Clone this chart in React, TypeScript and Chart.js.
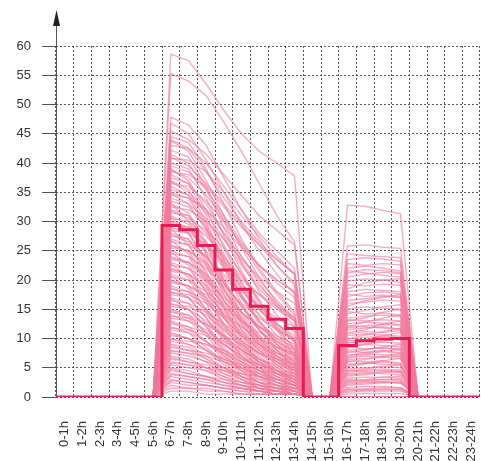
import React, { useEffect, useRef } from 'react';
import { Chart, registerables } from 'chart.js';
Chart.register(...registerables);

const hourLabels = ['0-1h','1-2h','2-3h','3-4h','4-5h','5-6h','6-7h','7-8h','8-9h','9-10h','10-11h','11-12h','12-13h','13-14h','14-15h','15-16h','16-17h','17-18h','18-19h','19-20h','20-21h','21-22h','22-23h','23-24h'];

// Thick step line (mean per hour)
const meanProfile = [0,0,0,0,0,0,29.3,28.6,25.9,21.7,18.4,15.5,13.3,11.7,0,0,8.8,9.6,9.9,10.0,0,0,0,0];

// Thin lines: values at 6-7h .. 13-14h
const morningProfiles = [
  [58.6,57.5,53.5,49.0,45.0,42.0,40.0,37.8],
  [55.3,54.0,51.5,47.0,42.0,36.5,31.0,26.5],
  [47.8,46.5,43.0,37.5,32.0,27.0,22.5,19.0],
  [46.8,45.0,40.5,35.0,29.5,25.0,21.0,17.5],
  [45.5,44.0,41.5,38.0,34.5,31.0,28.5,26.0],
  [44.5,43.5,39.0,33.0,27.0,22.0,18.0,14.5],
  [43.8,42.0,37.0,31.0,25.5,20.5,16.0,13.0],
  [43.0,42.5,40.0,36.0,32.0,28.0,25.0,22.0],
  [42.2,41.0,36.0,30.0,24.0,19.5,15.5,12.0],
  [41.5,40.0,35.5,29.0,23.0,18.0,14.0,11.0],
  [40.8,40.5,38.5,35.0,31.0,27.5,24.0,21.0],
  [40.0,39.0,34.0,27.5,21.5,16.5,12.5,9.5],
  [39.5,38.5,35.5,31.0,26.5,22.5,19.5,17.0],
  [39.0,37.0,32.0,25.5,19.5,15.0,11.5,8.5],
  [38.5,38.0,36.0,32.5,29.0,26.0,23.5,21.0],
  [38.0,36.5,31.0,24.5,18.5,14.0,10.5,8.0],
  [37.5,36.5,33.0,28.0,23.0,19.0,16.0,13.5],
  [37.0,35.5,30.0,23.5,17.5,13.0,9.5,7.0],
  [36.5,36.0,33.5,30.0,26.0,22.5,20.0,18.0],
  [36.0,34.5,29.5,23.0,17.0,12.5,9.0,6.5],
  [35.5,34.5,31.5,27.0,22.5,18.5,15.5,13.0],
  [35.0,34.0,29.0,22.0,16.0,11.5,8.5,6.0],
  [34.5,34.0,32.0,29.0,25.5,22.5,20.0,18.0],
  [34.0,33.0,28.5,22.5,17.0,13.0,10.0,7.5],
  [33.5,32.5,29.0,24.0,19.5,15.5,12.5,10.0],
  [33.0,31.5,26.5,20.0,14.5,10.5,7.5,5.5],
  [32.5,32.0,30.0,27.0,23.5,20.5,18.0,16.0],
  [32.0,31.0,26.0,19.5,14.0,10.0,7.0,5.0],
  [31.5,31.0,28.0,23.5,19.0,15.0,12.0,9.5],
  [31.0,29.5,24.5,18.5,13.5,9.5,6.5,4.5],
  [30.5,30.0,27.5,24.0,20.5,17.5,15.0,13.0],
  [30.0,29.0,24.5,18.5,13.0,9.0,6.5,4.5],
  [29.5,29.0,26.5,22.5,18.5,15.0,12.5,10.5],
  [29.0,28.0,23.5,17.5,12.5,8.5,6.0,4.0],
  [28.5,28.0,26.0,23.0,20.0,17.5,15.5,13.5],
  [28.0,27.0,22.5,16.5,11.5,8.0,5.5,3.5],
  [27.5,27.0,24.0,19.5,15.5,12.0,9.5,7.5],
  [27.0,26.0,21.5,15.5,10.5,7.0,4.5,3.0],
  [26.5,26.0,24.0,21.0,18.0,15.5,13.5,12.0],
  [26.0,25.0,20.5,15.0,10.0,6.5,4.5,3.0],
  [25.5,25.0,22.5,18.5,14.5,11.5,9.0,7.0],
  [25.0,24.0,19.5,14.0,9.5,6.0,4.0,2.5],
  [24.5,24.0,22.0,19.0,16.0,13.5,11.5,10.0],
  [24.0,23.0,19.0,13.5,9.0,6.0,4.0,2.5],
  [23.5,23.0,20.5,16.5,13.0,10.0,8.0,6.0],
  [23.0,22.0,18.0,12.5,8.5,5.5,3.5,2.0],
  [22.5,22.0,20.0,17.0,14.5,12.0,10.5,9.0],
  [22.0,21.0,17.0,12.0,8.0,5.0,3.0,2.0],
  [21.5,21.0,18.5,15.0,11.5,9.0,7.0,5.5],
  [21.0,20.0,16.0,11.0,7.0,4.5,3.0,2.0],
  [20.5,20.0,18.0,15.5,13.0,11.0,9.5,8.0],
  [20.0,19.0,15.0,10.5,7.0,4.5,2.5,1.5],
  [19.5,19.0,17.0,13.5,10.5,8.0,6.5,5.0],
  [19.0,18.0,14.5,10.0,6.5,4.0,2.5,1.5],
  [18.5,18.0,16.5,14.0,12.0,10.0,8.5,7.5],
  [18.0,17.0,13.5,9.5,6.0,3.5,2.0,1.0],
  [17.5,17.0,15.0,12.0,9.5,7.5,6.0,4.5],
  [17.0,16.0,12.5,8.5,5.5,3.5,2.0,1.0],
  [16.5,16.0,14.5,12.5,10.5,9.0,7.5,6.5],
  [16.0,15.0,12.0,8.0,5.0,3.0,2.0,1.0],
  [15.5,15.0,13.0,10.5,8.0,6.0,4.5,3.5],
  [15.0,14.0,11.0,7.5,4.5,2.5,1.5,1.0],
  [14.5,14.0,12.5,10.5,9.0,7.5,6.5,5.5],
  [14.0,13.0,10.5,7.0,4.5,2.5,1.5,0.5],
  [13.5,13.0,11.5,9.0,7.0,5.5,4.0,3.0],
  [13.0,12.0,9.5,6.5,4.0,2.5,1.5,0.5],
  [12.5,12.0,11.0,9.5,8.0,6.5,5.5,4.5],
  [12.0,11.0,8.5,6.0,3.5,2.0,1.0,0.5],
  [11.5,11.0,9.5,7.5,5.5,4.0,3.0,2.0],
  [11.0,10.0,8.0,5.5,3.5,2.0,1.0,0.5],
  [10.5,10.0,9.0,8.0,6.5,5.5,4.5,4.0],
  [10.0,9.0,7.0,5.0,3.0,1.5,1.0,0.5],
  [9.5,9.0,8.0,6.5,5.0,3.5,2.5,2.0],
  [9.0,8.5,6.5,4.5,3.0,1.5,1.0,0.5],
  [8.5,8.0,7.5,6.5,5.5,4.5,4.0,3.5],
  [8.0,7.5,6.0,4.0,2.5,1.5,1.0,0.5],
  [7.5,7.0,6.0,5.0,4.0,3.0,2.0,1.5],
  [7.0,6.5,5.0,3.5,2.0,1.0,0.5,0.5],
  [6.5,6.0,5.5,4.5,4.0,3.5,3.0,2.5],
  [6.0,5.5,4.5,3.0,2.0,1.0,0.5,0.5],
  [5.5,5.0,4.5,3.5,2.5,2.0,1.5,1.0],
  [5.0,4.5,3.5,2.5,1.5,1.0,0.5,0.5],
  [4.5,4.0,3.5,3.0,2.5,2.0,1.5,1.5],
  [4.0,3.5,3.0,2.0,1.5,1.0,0.5,0.5],
  [3.5,3.0,2.5,2.0,1.5,1.0,1.0,0.5],
  [3.0,2.5,2.0,1.5,1.0,0.5,0.5,0.5],
  [2.5,2.0,2.0,1.5,1.0,1.0,0.5,0.5],
  [2.0,1.5,1.5,1.0,0.5,0.5,0.5,0.5],
  [1.5,1.5,1.0,1.0,0.5,0.5,0.5,0.5],
  [1.0,1.0,0.5,0.5,0.5,0.5,0.5,0.5],
  [34.8,33.0,30.5,26.0,21.0,16.0,11.5,7.0],
  [33.2,30.0,25.0,20.5,17.0,14.0,11.5,9.5],
  [31.8,30.5,28.5,25.5,21.0,16.5,12.0,8.0],
  [30.8,28.0,23.0,18.0,14.5,12.0,10.0,8.5],
  [29.8,28.5,26.0,22.0,17.5,13.0,9.0,6.0],
  [28.8,26.0,21.0,16.5,13.0,10.5,8.5,7.0],
  [27.8,26.5,24.0,20.0,15.5,11.5,8.0,5.0],
  [26.8,24.5,20.0,15.5,12.0,9.5,7.5,6.0],
  [25.8,25.0,23.0,19.5,15.5,11.5,8.0,5.5],
  [24.8,22.5,18.0,14.0,11.0,8.5,7.0,5.5],
  [23.8,23.0,21.0,17.5,13.5,10.0,7.0,4.5],
  [22.8,20.5,16.5,12.5,9.5,7.5,6.0,5.0],
  [21.8,21.0,19.0,16.0,12.5,9.0,6.0,4.0],
  [20.8,18.5,15.0,11.5,8.5,6.5,5.0,4.0],
  [19.8,19.0,17.5,14.5,11.0,8.0,5.5,3.5],
  [18.8,17.0,13.5,10.0,7.5,5.5,4.5,3.5],
  [17.8,17.5,16.0,13.5,10.5,7.5,5.0,3.0],
  [16.8,15.0,12.0,9.0,6.5,5.0,4.0,3.0],
  [15.8,15.5,14.0,11.5,9.0,6.5,4.5,2.5],
  [14.8,13.5,11.0,8.0,6.0,4.5,3.5,2.5],
  [13.8,13.5,12.5,10.5,8.0,6.0,4.0,2.5],
  [12.8,11.5,9.5,7.0,5.0,4.0,3.0,2.0],
  [11.8,11.5,10.5,9.0,7.0,5.0,3.5,2.0],
  [10.8,10.0,8.0,6.0,4.5,3.5,2.5,2.0],
  [9.8,9.5,9.0,7.5,6.0,4.5,3.0,2.0],
  [8.8,8.0,6.5,5.0,3.5,2.5,2.0,1.5],
  [7.8,7.5,7.0,6.0,5.0,3.5,2.5,1.5],
  [6.8,6.0,5.0,4.0,3.0,2.0,1.5,1.0],
  [5.8,5.5,5.0,4.5,3.5,2.5,2.0,1.0],
  [4.8,4.0,3.5,2.5,2.0,1.5,1.0,1.0],
  [3.8,3.5,3.0,2.5,2.0,1.5,1.0,0.5],
  [2.8,2.5,2.0,1.5,1.5,1.0,1.0,0.5],
  [36.8,35.0,32.0,28.0,24.0,20.0,16.5,13.5],
  [38.8,37.5,34.5,30.5,26.0,21.5,17.5,14.0],
  [41.0,39.5,36.5,33.0,29.5,26.0,22.5,19.5],
  [44.0,42.5,38.5,34.0,30.0,26.5,23.5,21.0]
];

// Thin lines: values at 16-17h .. 19-20h
const afternoonProfiles = [
  [32.8,32.6,31.9,31.3],
  [25.8,26.0,25.6,25.4],
  [23.5,23.8,23.6,23.2],
  [22.8,22.5,22.8,22.6],
  [22.0,22.4,22.0,21.5],
  [21.2,21.8,21.6,21.2],
  [20.5,21.0,21.3,21.0],
  [19.8,20.2,20.0,19.6],
  [18.5,19.5,20.0,20.2],
  [18.0,18.4,18.2,18.0],
  [17.2,17.8,18.0,17.6],
  [16.5,16.8,17.2,17.0],
  [15.5,16.5,17.0,17.5],
  [15.0,15.4,15.2,15.0],
  [14.2,14.8,15.4,15.8],
  [13.5,13.8,14.0,13.8],
  [13.0,13.5,14.5,15.0],
  [12.5,12.8,12.6,12.4],
  [12.0,12.8,13.5,14.0],
  [11.5,11.8,12.0,11.6],
  [11.0,11.5,12.5,13.0],
  [10.5,10.8,10.6,10.4],
  [10.0,10.6,11.2,11.8],
  [9.6,9.8,10.0,9.8],
  [9.2,9.8,10.5,11.0],
  [8.8,9.0,8.8,8.6],
  [8.4,9.0,9.6,10.0],
  [8.0,8.2,8.4,8.2],
  [7.6,8.0,8.6,9.0],
  [7.2,7.4,7.2,7.0],
  [6.8,7.2,7.8,8.2],
  [6.4,6.6,6.8,6.6],
  [6.0,6.4,7.0,7.4],
  [5.6,5.8,5.6,5.4],
  [5.2,5.6,6.2,6.6],
  [4.8,5.0,5.2,5.0],
  [4.4,4.8,5.2,5.6],
  [4.0,4.2,4.0,3.8],
  [3.6,3.8,4.2,4.4],
  [3.2,3.4,3.4,3.2],
  [2.8,3.0,3.4,3.6],
  [2.4,2.6,2.6,2.4],
  [2.0,2.2,2.4,2.6],
  [1.6,1.8,1.8,1.6],
  [1.2,1.4,1.6,1.6],
  [0.8,1.0,1.0,1.0],
  [0.5,0.6,0.6,0.6],
  [24.5,24.2,24.0,23.8],
  [21.6,21.2,20.8,20.5],
  [19.2,19.0,19.3,19.1],
  [17.6,17.2,17.4,17.1],
  [16.0,16.2,16.6,16.4],
  [14.6,14.2,14.4,14.0],
  [13.2,13.0,13.2,13.0],
  [11.8,12.2,12.4,12.2],
  [10.8,11.2,11.0,11.4],
  [9.4,9.2,9.4,9.2],
  [8.6,8.2,8.4,8.0],
  [7.8,7.6,7.8,7.4],
  [7.0,7.6,8.0,7.6],
  [6.2,6.0,6.2,5.8],
  [5.4,5.8,6.0,5.6],
  [4.6,4.4,4.6,4.4],
  [3.8,4.0,4.4,4.2],
  [3.0,2.8,3.0,2.8],
  [2.2,2.4,2.6,2.4],
  [1.4,1.2,1.4,1.2],
  [12.2,12.0,11.8,11.6],
  [9.9,10.2,10.4,10.2],
  [6.6,7.0,6.8,7.0],
  [4.2,4.6,4.8,4.6],
  [2.6,2.8,3.0,3.0],
  [1.0,1.2,1.2,1.4]
];

const MORNING_START = 6;
const AFTERNOON_START = 16;
const FONT = 'Liberation Sans, Arial, Helvetica, sans-serif';
const GRID_COLOR = 'rgba(60,60,60,0.85)';

const axisArrow = {
  id: 'axisArrow',
  beforeDatasetsDraw(chart: any) {
    const { ctx, chartArea } = chart;
    const x = Math.round(chartArea.left) + 0.5;
    ctx.save();
    ctx.strokeStyle = '#555';
    ctx.lineWidth = 1;
    ctx.setLineDash([]);
    ctx.beginPath();
    ctx.moveTo(x, chartArea.bottom);
    ctx.lineTo(x, 22);
    ctx.stroke();
    ctx.fillStyle = '#222';
    ctx.beginPath();
    ctx.moveTo(x, 10);
    ctx.lineTo(x - 3.5, 26);
    ctx.lineTo(x + 3.5, 26);
    ctx.closePath();
    ctx.fill();
    ctx.restore();
  }
};

export default function App() {
  const ref = useRef<HTMLCanvasElement | null>(null);
  useEffect(() => {
    document.body.style.margin = '0';
    const n = Math.max(morningProfiles.length, afternoonProfiles.length);
    const thin: any[] = [];
    for (let i = 0; i < n; i++) {
      const row = hourLabels.map(() => 0);
      const m = morningProfiles[i];
      const a = afternoonProfiles[i];
      if (m) m.forEach((v, k) => { row[MORNING_START + k] = v; });
      if (a) a.forEach((v, k) => { row[AFTERNOON_START + k] = v; });
      thin.push({
        data: row,
        xAxisID: 'x',
        borderColor: 'rgba(240,122,158,0.62)',
        borderWidth: 1.4,
        pointRadius: 0,
        fill: false,
        tension: 0,
      });
    }
    const stepPts = meanProfile.map((v, h) => ({ x: h, y: v }));
    stepPts.push({ x: hourLabels.length, y: meanProfile[meanProfile.length - 1] });
    const chart = new Chart(ref.current as HTMLCanvasElement, {
      type: 'line',
      data: {
        labels: hourLabels,
        datasets: [
          {
            data: stepPts,
            xAxisID: 'xs',
            stepped: 'before',
            borderColor: 'rgb(232,28,82)',
            borderWidth: 3,
            pointRadius: 0,
            fill: false,
            order: -1,
          } as any,
          ...thin,
        ],
      },
      plugins: [axisArrow],
      options: {
        responsive: false,
        animation: false,
        layout: { padding: { top: 46, right: 1, left: 0, bottom: 0 } },
        plugins: { legend: { display: false }, tooltip: { enabled: false } },
        scales: {
          x: {
            type: 'category',
            offset: true,
            grid: { offset: true, drawTicks: false, color: GRID_COLOR, lineWidth: 1 },
            border: { display: false, dash: [2, 2] },
            ticks: {
              autoSkip: false,
              minRotation: 90,
              maxRotation: 90,
              padding: 24,
              color: '#333',
              font: { family: FONT, size: 13 },
            },
            afterFit(s: any) {
              s.height = 64;
              s.paddingLeft = 0; s.paddingRight = 0; s.paddingTop = 0; s.paddingBottom = 0;
            },
          },
          xs: { type: 'linear', min: 0, max: 24, display: false },
          y: {
            min: 0,
            max: 60,
            ticks: { stepSize: 5, padding: 11, color: '#333', font: { family: FONT, size: 13 } },
            grid: { color: GRID_COLOR, lineWidth: 1, tickLength: 14, tickColor: '#555', tickBorderDash: [] },
            border: { display: false, dash: [2, 2] },
            afterFit(s: any) {
              s.width = 56;
              s.paddingTop = 0; s.paddingBottom = 0; s.paddingLeft = 0; s.paddingRight = 0;
            },
          },
        },
      } as any,
    });
    return () => chart.destroy();
  }, []);
  return (
    <div style={{ width: 481, height: 461 }}>
      <canvas ref={ref} width={481} height={461} style={{ display: 'block' }} />
    </div>
  );
}
